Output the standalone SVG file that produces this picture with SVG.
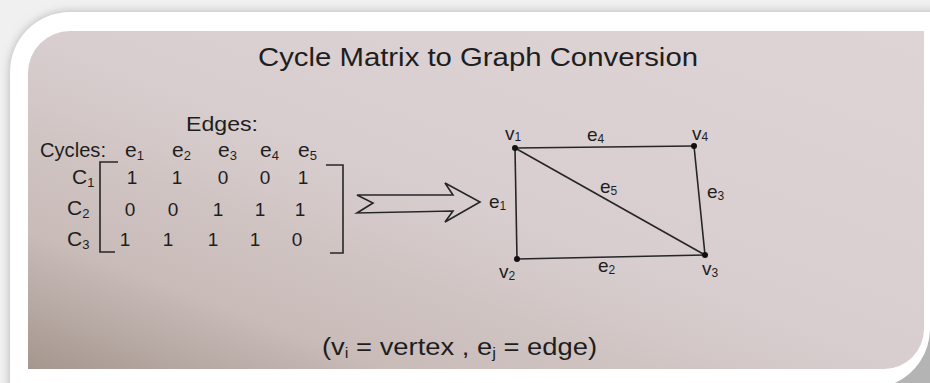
<svg xmlns="http://www.w3.org/2000/svg" width="930" height="383" viewBox="0 0 930 383">
  <defs>
    <linearGradient id="photo" x1="1" y1="0" x2="0" y2="1">
      <stop offset="0" stop-color="#ded4d6"/>
      <stop offset="0.5" stop-color="#d9cecf"/>
      <stop offset="0.8" stop-color="#c8bbb8"/>
      <stop offset="1" stop-color="#a5978e"/>
    </linearGradient>
    <filter id="blur" x="-10%" y="-10%" width="120%" height="120%">
      <feGaussianBlur stdDeviation="5"/>
    </filter>
    <style>
      .t { font-family: "Liberation Sans", Arial, sans-serif; fill: #1e1e1e; }
      .title { font-size: 25px; }
      .lbl { font-size: 21px; }
      .num { font-size: 19px; text-anchor: middle; }
      .g { font-size: 19px; }
      .line { stroke: #262626; stroke-width: 1.6; fill: none; }
      .dot { fill: #111; }
    </style>
  </defs>

  <!-- frame -->
  <rect width="930" height="383" fill="#f0f0f0"/>
  <path d="M10,395 V72 A60,60 0 0 1 70,12 H940 V395 Z" fill="#b4b4b4" filter="url(#blur)"/>
  <path d="M10,383 V72 A60,60 0 0 1 70,12 H930 V330 A60,60 0 0 1 895,383 Z" fill="#ffffff"/>
  <path d="M28,369 V73 A42,42 0 0 1 70,31 H924 V329 A40,40 0 0 1 884,369 Z" fill="url(#photo)"/>

  <!-- title -->
  <text class="t title" x="258" y="66" textLength="440" lengthAdjust="spacingAndGlyphs">Cycle Matrix to Graph Conversion</text>

  <!-- matrix -->
  <g id="matrix">
    <text class="t lbl" x="186" y="131" textLength="72" lengthAdjust="spacingAndGlyphs">Edges:</text>
    <text class="t lbl" x="40" y="157" textLength="66" lengthAdjust="spacingAndGlyphs">Cycles:</text>
    <text class="t lbl" x="125" y="157">e<tspan font-size="13" dy="3">1</tspan></text>
    <text class="t lbl" x="172" y="157">e<tspan font-size="13" dy="3">2</tspan></text>
    <text class="t lbl" x="218" y="157">e<tspan font-size="13" dy="3">3</tspan></text>
    <text class="t lbl" x="260" y="157">e<tspan font-size="13" dy="3">4</tspan></text>
    <text class="t lbl" x="298" y="157">e<tspan font-size="13" dy="3">5</tspan></text>

    <text class="t lbl" x="72" y="184">C<tspan font-size="13" dy="3">1</tspan></text>
    <text class="t lbl" x="67" y="215">C<tspan font-size="13" dy="3">2</tspan></text>
    <text class="t lbl" x="67" y="246">C<tspan font-size="13" dy="3">3</tspan></text>

    <polyline class="line" points="118,162 100,162 100,252 115,252"/>
    <polyline class="line" points="326,165 343,165 343,253 330,253"/>

    <text class="t num" x="132" y="184">1</text>
    <text class="t num" x="177" y="184">1</text>
    <text class="t num" x="223" y="184">0</text>
    <text class="t num" x="265" y="184">0</text>
    <text class="t num" x="303" y="184">1</text>

    <text class="t num" x="130" y="216">0</text>
    <text class="t num" x="173" y="216">0</text>
    <text class="t num" x="218" y="216">1</text>
    <text class="t num" x="260" y="216">1</text>
    <text class="t num" x="300" y="216">1</text>

    <text class="t num" x="125" y="246">1</text>
    <text class="t num" x="168" y="246">1</text>
    <text class="t num" x="213" y="246">1</text>
    <text class="t num" x="255" y="246">1</text>
    <text class="t num" x="297" y="246">0</text>
  </g>

  <!-- conversion arrow -->
  <g id="arrow">
    <polygon class="line" points="357,195 453,195 445,183 480,202 445,222 453,211 357,213 373,203" stroke-linejoin="miter"/>
  </g>

  <!-- graph connectors -->
  <g id="edges">
    <line class="line" x1="515" y1="148" x2="694" y2="146"/>
    <line class="line" x1="515" y1="148" x2="517" y2="259"/>
    <line class="line" x1="517" y1="259" x2="705" y2="255"/>
    <line class="line" x1="694" y1="146" x2="705" y2="255"/>
    <line class="line" x1="515" y1="148" x2="705" y2="255"/>
    <text class="t g" x="587" y="141">e<tspan font-size="12" dy="2">4</tspan></text>
    <text class="t g" x="600" y="193">e<tspan font-size="12" dy="2">5</tspan></text>
    <text class="t g" x="707" y="198">e<tspan font-size="12" dy="2">3</tspan></text>
    <text class="t g" x="489" y="208">e<tspan font-size="12" dy="2">1</tspan></text>
    <text class="t g" x="598" y="272">e<tspan font-size="12" dy="2">2</tspan></text>
  </g>

  <!-- vertices -->
  <g id="v1">
    <circle class="dot" cx="515" cy="148" r="3"/>
    <text class="t g" x="505" y="140">v<tspan font-size="12" dy="1">1</tspan></text>
  </g>
  <g id="v4">
    <circle class="dot" cx="694" cy="146" r="3"/>
    <text class="t g" x="692" y="140">v<tspan font-size="12" dy="1">4</tspan></text>
  </g>
  <g id="v3">
    <circle class="dot" cx="705" cy="255" r="3"/>
    <text class="t g" x="702" y="275">v<tspan font-size="12" dy="2">3</tspan></text>
  </g>
  <g id="v2">
    <circle class="dot" cx="517" cy="259" r="3"/>
    <text class="t g" x="499" y="278">v<tspan font-size="12" dy="2">2</tspan></text>
  </g>

  <!-- legend -->
  <text class="t" font-size="23" x="322" y="355" textLength="275" lengthAdjust="spacingAndGlyphs">(v<tspan font-size="14" dy="3">i</tspan><tspan dy="-3"> = vertex ,  e</tspan><tspan font-size="14" dy="3">j</tspan><tspan dy="-3"> = edge)</tspan></text>
</svg>
